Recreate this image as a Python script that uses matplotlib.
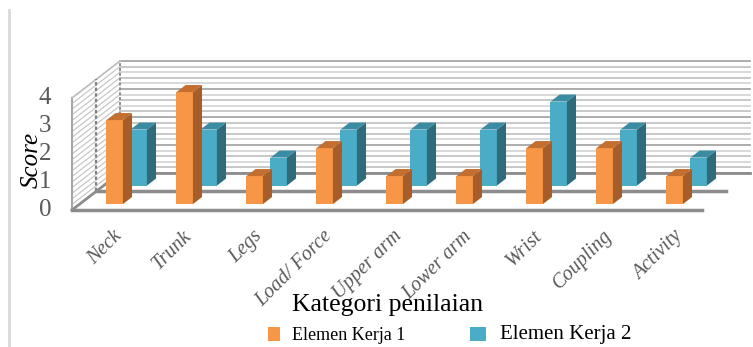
import matplotlib
matplotlib.use("Agg")
import matplotlib.pyplot as plt
from matplotlib.patches import Polygon, Rectangle
import numpy as np

categories = ["Neck", "Trunk", "Legs", "Load/ Force", "Upper arm",
              "Lower arm", "Wrist", "Coupling", "Activity"]
elemen_1 = [3, 4, 1, 2, 1, 1, 2, 2, 1]
elemen_2 = [2, 2, 1, 2, 2, 2, 3, 2, 1]
y_ticks = [0, 1, 2, 3, 4]

SERIF = "Liberation Serif"

# depth step of one series row (in category / value units)
DX = 24 / 70
DY = 18.5 / 28
BAR_W = 0.235
BAR_D = 0.38

fig = plt.figure(figsize=(7.53, 3.47), dpi=100)
ax = fig.add_axes([0, 0, 1, 1])
ax.set_xlim(-72 / 70, (753 - 72) / 70)
ax.set_ylim((210 - 347) / 28, 210 / 28)
ax.axis("off")

n = len(categories)
ymax = max(y_ticks)

# chart frame on the left
ax.plot([-63 / 70, -63 / 70], [(210 - 10) / 28, (210 - 347) / 28],
        color="#d9d9d9", lw=2, zorder=0)

# back wall with dense gridlines
ax.add_patch(Rectangle((2 * DX, 2 * DY), n, ymax, facecolor="white",
                       edgecolor="none", zorder=1))
levels = np.arange(0, ymax + 0.01, 0.2)
for k, v in enumerate(levels):
    col = "#a6a6a6" if k % 5 == 0 else ("#c4c4c4" if k % 2 else "#d6d6d6")
    ax.plot([2 * DX, n + 2 * DX], [v + 2 * DY, v + 2 * DY], color=col,
            lw=1.3, zorder=2)
    # same gridline wrapping onto the side wall
    ax.plot([0, 2 * DX], [v, v + 2 * DY], color="#c8c8c8", lw=0.9, zorder=2)

# side wall edges
ax.plot([0, 0], [0, ymax], color="#a6a6a6", lw=1.5, zorder=3)
ax.plot([0, 2 * DX], [ymax, ymax + 2 * DY], color="#bfbfbf", lw=1.2, zorder=3)
ax.plot([DX, DX], [DY, ymax + DY], color="#7f7f7f", lw=1.6,
        linestyle=(0, (1.5, 1)), zorder=3)
ax.plot([2 * DX, 2 * DX], [2 * DY, ymax + 2 * DY], color="#8c8c8c", lw=1.4,
        linestyle=(0, (1.5, 1)), zorder=3)

# floor lines
ax.plot([0, 2 * DX], [0, 2 * DY], color="#8c8c8c", lw=2, zorder=3)
for d in range(3):
    ax.plot([d * DX, n + d * DX], [d * DY, d * DY], color="#8c8c8c",
            lw=2.5 if d < 2 else 2, zorder=3)


def draw_bars(values, d0, front, side, top, z):
    xs = np.arange(n) + 0.5 + d0 * DX
    base = d0 * DY
    ax.bar(xs, values, width=BAR_W, bottom=base, color=front,
           edgecolor="none", zorder=z)
    ox, oy = BAR_D * DX, BAR_D * DY
    for x, v in zip(xs, values):
        xl, xr = x - BAR_W / 2, x + BAR_W / 2
        ax.add_patch(Polygon([(xr, base), (xr + ox, base + oy),
                              (xr + ox, base + v + oy), (xr, base + v)],
                             facecolor=side, edgecolor="none", zorder=z))
        ax.add_patch(Polygon([(xl, base + v), (xr, base + v),
                              (xr + ox, base + v + oy), (xl + ox, base + v + oy)],
                             facecolor=top, edgecolor="none", zorder=z))


draw_bars(elemen_2, 1.32, "#4aacc6", "#2f6b7b", "#3a8ca3", 4)
draw_bars(elemen_1, 0.32, "#f79646", "#a65d2a", "#c46e2f", 5)

# value axis labels
for t in y_ticks:
    ax.text(-27 / 70, t, str(t), ha="center", va="center", fontsize=18,
            family=SERIF, color="#595959")
ax.text(-40 / 70, (210 - 160) / 28, "Score", rotation=90, ha="center",
        va="center", fontsize=18, family=SERIF, style="italic", color="black")

# category labels
for i, name in enumerate(categories):
    ax.text(i + 0.58, -0.6, name, rotation=45, rotation_mode="anchor",
            ha="right", va="top", fontsize=14.5, family=SERIF, style="italic",
            color="#595959")

# axis title and legend
fig.text(388 / 753, 1 - 305 / 347, "Kategori penilaian", ha="center",
         va="center", fontsize=18.5, family=SERIF, color="black")
fig.patches.append(Rectangle((268 / 753, 1 - 341 / 347), 12 / 753, 14 / 347,
                             transform=fig.transFigure, facecolor="#f79646",
                             edgecolor="none"))
fig.text(292 / 753, 1 - 336 / 347, "Elemen Kerja 1", ha="left", va="center",
         fontsize=13, family=SERIF, color="black")
fig.patches.append(Rectangle((470 / 753, 1 - 341 / 347), 16 / 753, 14 / 347,
                             transform=fig.transFigure, facecolor="#4aacc6",
                             edgecolor="none"))
fig.text(500 / 753, 1 - 334 / 347, "Elemen Kerja 2", ha="left", va="center",
         fontsize=15, family=SERIF, color="black")

fig.savefig("out.png", dpi=100)
